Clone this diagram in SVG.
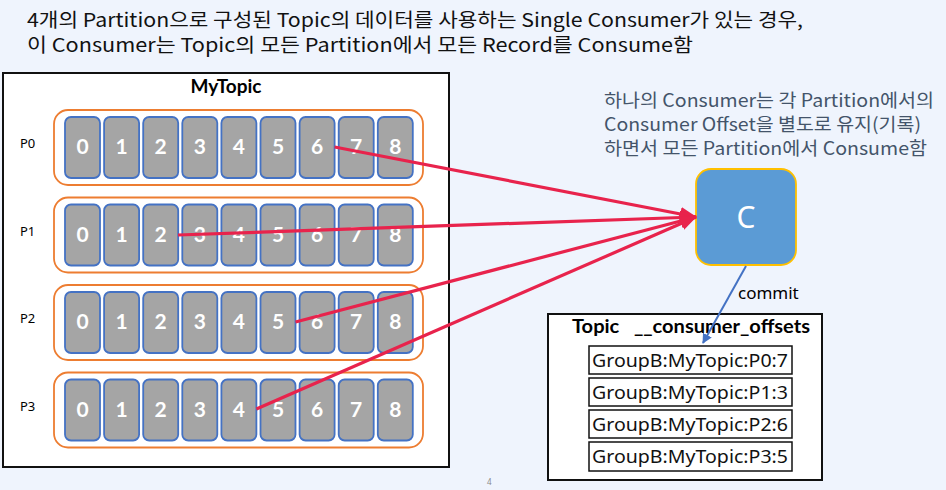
<svg xmlns="http://www.w3.org/2000/svg" width="946" height="490" viewBox="0 0 946 490">
  <defs>
    <style>
      .kr { font-family: "Noto Sans CJK KR", "Noto Sans", sans-serif; }
      .hdr { font-size: 19px; fill: #111; }
      .note { font-size: 18px; fill: #44546a; }
      .frame { fill: #fff; stroke: #111; stroke-width: 2; }
      .part { fill: #fff; stroke: #ed7d31; stroke-width: 1.8; }
      .cell { fill: #a5a5a5; stroke: #4472c4; stroke-width: 1.8; }
      .num { font-family: Lato, "Liberation Sans", sans-serif; font-weight: 700; font-size: 21px; fill: #fff; text-anchor: middle; }
      .plabel { font-family: "Noto Sans", "Liberation Sans", sans-serif; font-size: 13px; fill: #000; }
      .feed { stroke: #e8234c; stroke-width: 3.2; fill: none; }
      .entry { fill: #fff; stroke: #111; stroke-width: 1.5; }
      .etext { font-family: "Noto Sans", "Liberation Sans", sans-serif; font-size: 18px; fill: #111; }
    </style>
    <marker id="redHead" markerWidth="18" markerHeight="14" refX="16" refY="7" orient="auto" markerUnits="userSpaceOnUse">
      <path d="M0,0 L17,7 L0,14 z" fill="#e8234c"/>
    </marker>
    <marker id="blueHead" markerWidth="10" markerHeight="10" refX="9" refY="5" orient="auto" markerUnits="userSpaceOnUse">
      <path d="M0,0 L10,5 L0,10 z" fill="#4472c4"/>
    </marker>
  </defs>

  <rect width="946" height="490" fill="#eff4fd"/>

  <!-- heading -->
  <g id="heading" class="kr hdr">
    <text x="27" y="27" textLength="776" lengthAdjust="spacingAndGlyphs">4개의 Partition으로 구성된 Topic의 데이터를 사용하는 Single Consumer가 있는 경우,</text>
    <text x="27" y="52" textLength="666" lengthAdjust="spacingAndGlyphs">이 Consumer는 Topic의 모든 Partition에서 모든 Record를 Consume함</text>
  </g>

  <!-- topic MyTopic with four partitions -->
  <g id="mytopic">
    <rect class="frame" x="3" y="73" width="446" height="394"/>
    <text x="226" y="93" text-anchor="middle" font-family="Lato, 'Liberation Sans', sans-serif" font-weight="700" font-size="19" fill="#000">MyTopic</text>
  </g>

  <g id="p0">
    <text class="plabel" x="20" y="148">P0</text>
    <rect class="part" x="54" y="110" width="369" height="75" rx="14"/>
    <g transform="translate(0,117)">
      <rect class="cell" x="65" y="0" width="35" height="61" rx="6"/><text class="num" x="82.5" y="37">0</text>
      <rect class="cell" x="104.1" y="0" width="35" height="61" rx="6"/><text class="num" x="121.6" y="37">1</text>
      <rect class="cell" x="143.2" y="0" width="35" height="61" rx="6"/><text class="num" x="160.7" y="37">2</text>
      <rect class="cell" x="182.3" y="0" width="35" height="61" rx="6"/><text class="num" x="199.8" y="37">3</text>
      <rect class="cell" x="221.4" y="0" width="35" height="61" rx="6"/><text class="num" x="238.9" y="37">4</text>
      <rect class="cell" x="260.5" y="0" width="35" height="61" rx="6"/><text class="num" x="278" y="37">5</text>
      <rect class="cell" x="299.6" y="0" width="35" height="61" rx="6"/><text class="num" x="317.1" y="37">6</text>
      <rect class="cell" x="338.7" y="0" width="35" height="61" rx="6"/><text class="num" x="356.2" y="37">7</text>
      <rect class="cell" x="377.8" y="0" width="35" height="61" rx="6"/><text class="num" x="395.3" y="37">8</text>
    </g>
  </g>

  <g id="p1">
    <text class="plabel" x="20" y="235.5">P1</text>
    <rect class="part" x="54" y="197.5" width="369" height="75" rx="14"/>
    <g transform="translate(0,204.5)">
      <rect class="cell" x="65" y="0" width="35" height="61" rx="6"/><text class="num" x="82.5" y="37">0</text>
      <rect class="cell" x="104.1" y="0" width="35" height="61" rx="6"/><text class="num" x="121.6" y="37">1</text>
      <rect class="cell" x="143.2" y="0" width="35" height="61" rx="6"/><text class="num" x="160.7" y="37">2</text>
      <rect class="cell" x="182.3" y="0" width="35" height="61" rx="6"/><text class="num" x="199.8" y="37">3</text>
      <rect class="cell" x="221.4" y="0" width="35" height="61" rx="6"/><text class="num" x="238.9" y="37">4</text>
      <rect class="cell" x="260.5" y="0" width="35" height="61" rx="6"/><text class="num" x="278" y="37">5</text>
      <rect class="cell" x="299.6" y="0" width="35" height="61" rx="6"/><text class="num" x="317.1" y="37">6</text>
      <rect class="cell" x="338.7" y="0" width="35" height="61" rx="6"/><text class="num" x="356.2" y="37">7</text>
      <rect class="cell" x="377.8" y="0" width="35" height="61" rx="6"/><text class="num" x="395.3" y="37">8</text>
    </g>
  </g>

  <g id="p2">
    <text class="plabel" x="20" y="323">P2</text>
    <rect class="part" x="54" y="285" width="369" height="75" rx="14"/>
    <g transform="translate(0,292)">
      <rect class="cell" x="65" y="0" width="35" height="61" rx="6"/><text class="num" x="82.5" y="37">0</text>
      <rect class="cell" x="104.1" y="0" width="35" height="61" rx="6"/><text class="num" x="121.6" y="37">1</text>
      <rect class="cell" x="143.2" y="0" width="35" height="61" rx="6"/><text class="num" x="160.7" y="37">2</text>
      <rect class="cell" x="182.3" y="0" width="35" height="61" rx="6"/><text class="num" x="199.8" y="37">3</text>
      <rect class="cell" x="221.4" y="0" width="35" height="61" rx="6"/><text class="num" x="238.9" y="37">4</text>
      <rect class="cell" x="260.5" y="0" width="35" height="61" rx="6"/><text class="num" x="278" y="37">5</text>
      <rect class="cell" x="299.6" y="0" width="35" height="61" rx="6"/><text class="num" x="317.1" y="37">6</text>
      <rect class="cell" x="338.7" y="0" width="35" height="61" rx="6"/><text class="num" x="356.2" y="37">7</text>
      <rect class="cell" x="377.8" y="0" width="35" height="61" rx="6"/><text class="num" x="395.3" y="37">8</text>
    </g>
  </g>

  <g id="p3">
    <text class="plabel" x="20" y="410.5">P3</text>
    <rect class="part" x="54" y="372.5" width="369" height="75" rx="14"/>
    <g transform="translate(0,379.5)">
      <rect class="cell" x="65" y="0" width="35" height="61" rx="6"/><text class="num" x="82.5" y="37">0</text>
      <rect class="cell" x="104.1" y="0" width="35" height="61" rx="6"/><text class="num" x="121.6" y="37">1</text>
      <rect class="cell" x="143.2" y="0" width="35" height="61" rx="6"/><text class="num" x="160.7" y="37">2</text>
      <rect class="cell" x="182.3" y="0" width="35" height="61" rx="6"/><text class="num" x="199.8" y="37">3</text>
      <rect class="cell" x="221.4" y="0" width="35" height="61" rx="6"/><text class="num" x="238.9" y="37">4</text>
      <rect class="cell" x="260.5" y="0" width="35" height="61" rx="6"/><text class="num" x="278" y="37">5</text>
      <rect class="cell" x="299.6" y="0" width="35" height="61" rx="6"/><text class="num" x="317.1" y="37">6</text>
      <rect class="cell" x="338.7" y="0" width="35" height="61" rx="6"/><text class="num" x="356.2" y="37">7</text>
      <rect class="cell" x="377.8" y="0" width="35" height="61" rx="6"/><text class="num" x="395.3" y="37">8</text>
    </g>
  </g>

  <!-- note next to the consumer -->
  <g id="note" class="kr note">
    <text x="604" y="107" textLength="330" lengthAdjust="spacingAndGlyphs">하나의 Consumer는 각 Partition에서의</text>
    <text x="604" y="131" textLength="317" lengthAdjust="spacingAndGlyphs">Consumer Offset을 별도로 유지(기록)</text>
    <text x="604" y="155" textLength="323" lengthAdjust="spacingAndGlyphs">하면서 모든 Partition에서 Consume함</text>
  </g>

  <!-- consumer -->
  <g id="consumer">
    <rect x="696" y="169" width="100" height="96" rx="15" fill="#5b9bd5" stroke="#ffc000" stroke-width="1.8"/>
    <text x="746" y="228" text-anchor="middle" font-family="'Noto Sans', sans-serif" font-size="30" fill="#fff">C</text>
  </g>

  <!-- __consumer_offsets topic -->
  <g id="offsets">
    <rect x="548" y="314" width="274" height="166" fill="#fff" stroke="#111" stroke-width="2"/>
    <text x="572" y="333" font-family="Lato, 'Liberation Sans', sans-serif" font-weight="700" font-size="18" fill="#000" xml:space="preserve" textLength="238" lengthAdjust="spacingAndGlyphs">Topic   __consumer_offsets</text>
    <rect class="entry" x="589" y="346" width="203" height="28"/>
    <text class="etext" x="592" y="367" textLength="196" lengthAdjust="spacingAndGlyphs">GroupB:MyTopic:P0:7</text>
    <rect class="entry" x="589" y="378" width="203" height="28"/>
    <text class="etext" x="592" y="399" textLength="196" lengthAdjust="spacingAndGlyphs">GroupB:MyTopic:P1:3</text>
    <rect class="entry" x="589" y="410" width="203" height="28"/>
    <text class="etext" x="592" y="431" textLength="196" lengthAdjust="spacingAndGlyphs">GroupB:MyTopic:P2:6</text>
    <rect class="entry" x="589" y="442" width="203" height="29"/>
    <text class="etext" x="592" y="463" textLength="196" lengthAdjust="spacingAndGlyphs">GroupB:MyTopic:P3:5</text>
  </g>

  <!-- connectors -->
  <g id="connectors">
    <line class="feed" x1="334.6" y1="147" x2="696" y2="217" marker-end="url(#redHead)"/>
    <line class="feed" x1="178" y1="235" x2="696" y2="217" marker-end="url(#redHead)"/>
    <line class="feed" x1="295.5" y1="322" x2="696" y2="217" marker-end="url(#redHead)"/>
    <line class="feed" x1="256.4" y1="409" x2="696" y2="217" marker-end="url(#redHead)"/>
    <line x1="746" y1="266" x2="703" y2="343" stroke="#4472c4" stroke-width="2" marker-end="url(#blueHead)"/>
    <text x="738" y="299" font-family="'Noto Sans', sans-serif" font-size="17" fill="#000">commit</text>
  </g>

  <text x="487" y="485" font-family="'Noto Sans', sans-serif" font-size="8" fill="#888">4</text>
</svg>
